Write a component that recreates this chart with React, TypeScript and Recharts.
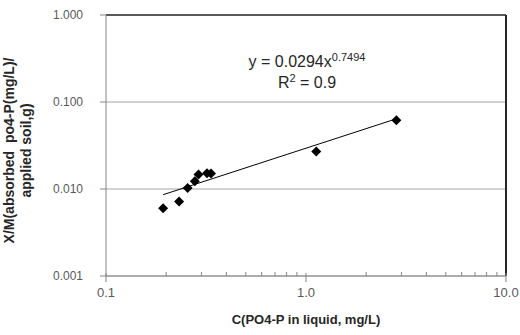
import {
  CartesianGrid,
  ReferenceLine,
  Scatter,
  ScatterChart,
  XAxis,
  YAxis,
} from 'recharts'

// measured points (liquid concentration, adsorbed per soil)
const conc = [0.193, 0.232, 0.256, 0.278, 0.29, 0.32, 0.335, 1.125, 2.83]
const adsorbed = [0.006, 0.0072, 0.0103, 0.0123, 0.0147, 0.0152, 0.0151, 0.027, 0.0615]

// power trendline end points
const trendX = [0.193, 2.83]
const trendY = [0.0086, 0.0641]

const xMajor = [0.1, 1, 10]
const xTicks = [0.1, 0.2, 0.3, 0.4, 0.5, 0.6, 0.7, 0.8, 0.9, 1, 2, 3, 4, 5, 6, 7, 8, 9, 10]
const yTicks = [0.001, 0.01, 0.1, 1]

const points = conc.map((x, i) => ({ x, y: adsorbed[i] }))
const trend = trendX.map((x, i) => ({ x, y: trendY[i] }))

const AXIS = '#868686'
const LABEL = '#595959'
const FONT = '"Liberation Sans", Arial, sans-serif'

function Diamond(props: { cx?: number; cy?: number }) {
  const { cx = 0, cy = 0 } = props
  const r = 5
  return (
    <path
      d={`M${cx},${cy - r}L${cx + r},${cy}L${cx},${cy + r}L${cx - r},${cy}Z`}
      fill="#000"
    />
  )
}

function XTick(props: { x?: number; y?: number; payload?: { value: number } }) {
  const { x = 0, y = 0, payload } = props
  const v = payload?.value ?? 0
  const major = xMajor.some((m) => Math.abs(m - v) < 1e-9)
  return (
    <g>
      <line x1={x} x2={x} y1={major ? y - 3 : y - 4} y2={major ? y + 6 : y} stroke={AXIS} />
      {major ? (
        <text x={x} y={y + 21} textAnchor="middle" fill={LABEL} fontSize={13} fontFamily={FONT}>
          {v.toFixed(1)}
        </text>
      ) : null}
    </g>
  )
}

export default function App() {
  return (
    <div style={{ position: 'absolute', left: 0, top: 0, width: 520, height: 335, background: '#fff' }}>
      <ScatterChart width={520} height={335} margin={{ top: 15, right: 14, bottom: 19, left: 0 }}>
        <CartesianGrid vertical={false} stroke="#a6a6a6" />
        <XAxis
          type="number"
          dataKey="x"
          scale="log"
          domain={[0.1, 10]}
          ticks={xTicks}
          interval={0}
          allowDataOverflow
          height={40}
          stroke={AXIS}
          tickLine={false}
          tickSize={0}
          tickMargin={0}
          tick={<XTick />}
          label={{
            content: (p: any) => {
              const vb = p.viewBox ?? { x: 0, y: 0, width: 0 }
              return (
                <text
                  x={vb.x + vb.width / 2}
                  y={vb.y + 48}
                  textAnchor="middle"
                  fontSize={13}
                  fontWeight="bold"
                  fill="#262626"
                  fontFamily={FONT}
                >
                  C(PO4-P in liquid, mg/L)
                </text>
              )
            },
          }}
        />
        <YAxis
          type="number"
          dataKey="y"
          scale="log"
          domain={[0.001, 1]}
          ticks={yTicks}
          interval={0}
          allowDataOverflow
          width={106}
          stroke={AXIS}
          tickSize={6}
          tickMargin={17}
          tickFormatter={(v: number) => v.toFixed(3)}
          tick={{ fill: LABEL, fontSize: 12, fontFamily: FONT }}
          label={{
            content: (p: any) => {
              const vb = p.viewBox ?? { x: 0, y: 0, height: 0 }
              const cy = vb.y + vb.height / 2 + 5
              return (
                <text
                  transform={`translate(${vb.x + 14}, ${cy}) rotate(-90)`}
                  textAnchor="middle"
                  fontSize={14}
                  fontWeight="bold"
                  fill="#262626"
                  fontFamily={FONT}
                  style={{ whiteSpace: 'pre' }}
                >
                  <tspan x={0} dy={0}>X/M(absorbed  po4-P(mg/L)/</tspan>
                  <tspan x={0} dy={17}>applied soil,g)</tspan>
                </text>
              )
            },
          }}
        />
        <ReferenceLine y={1} stroke="#595959" strokeWidth={2} />
        <ReferenceLine x={10} stroke="#262626" strokeWidth={2} />
        <Scatter
          data={trend}
          line={{ stroke: '#000', strokeWidth: 1 }}
          lineType="joint"
          shape={() => <g />}
          isAnimationActive={false}
        />
        <Scatter data={points} shape={<Diamond />} isAnimationActive={false} />
      </ScatterChart>
      <div
        style={{
          position: 'absolute',
          left: 307,
          top: 51,
          transform: 'translateX(-50%)',
          fontFamily: FONT,
          fontSize: 16,
          color: '#262626',
          textAlign: 'center',
          lineHeight: '21px',
          whiteSpace: 'nowrap',
        }}
      >
        <div>
          y = 0.0294x<sup style={{ fontSize: 11, verticalAlign: 'top', position: 'relative', top: -4 }}>0.7494</sup>
        </div>
        <div>
          R<sup style={{ fontSize: 11, verticalAlign: 'top', position: 'relative', top: -4 }}>2</sup> = 0.9
        </div>
      </div>
    </div>
  )
}
